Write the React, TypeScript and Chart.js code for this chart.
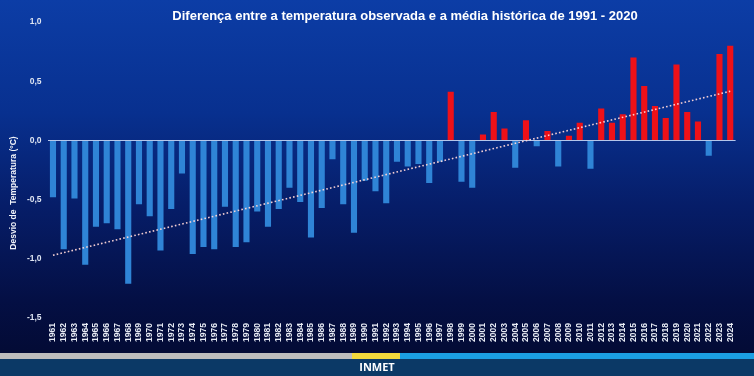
import React, { useEffect, useRef } from "react";
import { Chart, registerables } from "chart.js";

Chart.register(...registerables);

const years = [
  "1961","1962","1963","1964","1965","1966","1967","1968","1969","1970",
  "1971","1972","1973","1974","1975","1976","1977","1978","1979","1980",
  "1981","1982","1983","1984","1985","1986","1987","1988","1989","1990",
  "1991","1992","1993","1994","1995","1996","1997","1998","1999","2000",
  "2001","2002","2003","2004","2005","2006","2007","2008","2009","2010",
  "2011","2012","2013","2014","2015","2016","2017","2018","2019","2020",
  "2021","2022","2023","2024",
];

const anomalies = [
  -0.48, -0.92, -0.49, -1.05, -0.73, -0.70, -0.75, -1.21, -0.54, -0.64,
  -0.93, -0.58, -0.28, -0.96, -0.90, -0.92, -0.56, -0.90, -0.86, -0.60,
  -0.73, -0.58, -0.40, -0.52, -0.82, -0.57, -0.16, -0.54, -0.78, -0.34,
  -0.43, -0.53, -0.18, -0.22, -0.20, -0.36, -0.18, 0.41, -0.35, -0.40,
  0.05, 0.24, 0.10, -0.23, 0.17, -0.05, 0.08, -0.22, 0.04, 0.15,
  -0.24, 0.27, 0.15, 0.22, 0.70, 0.46, 0.29, 0.19, 0.64, 0.24,
  0.16, -0.13, 0.73, 0.80,
];

const yTickValues = [-1.5, -1.0, -0.5, 0.0, 0.5, 1.0];
const yTickLabels = ["-1,5", "-1,0", "-0,5", "0,0", "0,5", "1,0"];

const trendStart = -0.97;
const trendEnd = 0.415;

const titleText = "Diferença entre a temperatura observada e a média histórica de 1991 - 2020";
const yTitleText = "Desvio de  Temperatura (°C)";
const footerText = "INMET";

export default function App() {
  const ref = useRef<HTMLCanvasElement>(null);

  useEffect(() => {
    document.body.style.margin = "0";
    const W = 754;
    const H = 376;
    const canvas = ref.current;
    if (!canvas) return;

    const decor = {
      id: "decor",
      beforeDraw(chart: any) {
        const ctx = chart.ctx;
        ctx.save();
        const g = ctx.createLinearGradient(0, 0, 0, H);
        g.addColorStop(0, "#0c3da6");
        g.addColorStop(0.3, "#08308f");
        g.addColorStop(0.55, "#061d68");
        g.addColorStop(0.8, "#040f44");
        g.addColorStop(0.93, "#030b36");
        ctx.fillStyle = g;
        ctx.fillRect(0, 0, W, H);
        ctx.restore();
      },
      afterDraw(chart: any) {
        const ctx = chart.ctx;
        ctx.save();
        // title
        ctx.fillStyle = "#ffffff";
        ctx.font = "bold 13px 'Liberation Sans', Arial, sans-serif";
        ctx.textAlign = "center";
        ctx.textBaseline = "middle";
        ctx.fillText(titleText, 405, 16);
        // y title
        ctx.save();
        ctx.translate(14, 193);
        ctx.rotate(-Math.PI / 2);
        ctx.font = "bold 8.5px 'Liberation Sans', Arial, sans-serif";
        ctx.fillStyle = "#f0f3fa";
        ctx.fillText(yTitleText, 0, 0);
        ctx.restore();
        // bottom strip
        ctx.fillStyle = "#bdbdbd";
        ctx.fillRect(0, 353, 352, 6);
        ctx.fillStyle = "#f2d83c";
        ctx.fillRect(352, 353, 48, 6);
        ctx.fillStyle = "#1b9fe3";
        ctx.fillRect(400, 353, 354, 6);
        ctx.fillStyle = "#0b3966";
        ctx.fillRect(0, 359, W, 17);
        ctx.fillStyle = "#ffffff";
        ctx.font = "bold 11px 'Open Sans', Arial, sans-serif";
        ctx.textAlign = "center";
        ctx.textBaseline = "middle";
        ctx.fillText(footerText, 377, 368);
        ctx.restore();
      },
    };

    const trendData = years.map((_, i) =>
      i === 0 ? trendStart : i === years.length - 1 ? trendEnd : null
    );

    const chart = new Chart(canvas, {
      type: "bar",
      data: {
        labels: years,
        datasets: [
          {
            type: "line",
            data: trendData as any,
            spanGaps: true,
            borderColor: "rgba(255,215,215,0.95)",
            borderWidth: 1.6,
            borderDash: [1.6, 2.2],
            pointRadius: 0,
            fill: false,
            order: 0,
          } as any,
          {
            type: "bar",
            data: anomalies,
            backgroundColor: anomalies.map((v) => (v >= 0 ? "#ee1118" : "#2f84d6")),
            borderWidth: 0,
            barPercentage: 0.57,
            categoryPercentage: 1,
            order: 1,
          },
        ],
      },
      plugins: [decor],
      options: {
        responsive: false,
        animation: false,
        devicePixelRatio: 1,
        layout: { padding: { top: 22, right: 18.4, left: 0, bottom: 0 } },
        plugins: {
          legend: { display: false },
          tooltip: { enabled: false },
          title: { display: false },
        },
        scales: {
          x: {
            type: "category",
            offset: true,
            grid: { display: false, drawTicks: false },
            border: { display: false },
            ticks: {
              color: "#e8ecf5",
              font: { family: "'Liberation Sans', Arial, sans-serif", size: 8.5, weight: "bold" },
              minRotation: 90,
              maxRotation: 90,
              autoSkip: false,
              padding: 5,
            },
            afterFit: (s: any) => {
              s.height = 58;
            },
          },
          y: {
            min: -1.5,
            max: 1.0,
            afterBuildTicks: (s: any) => {
              s.ticks = yTickValues.map((v) => ({ value: v }));
            },
            ticks: {
              color: "#dfe5f2",
              font: { family: "'Liberation Sans', Arial, sans-serif", size: 8.5, weight: "bold" },
              padding: 6,
              callback: (v: any) => {
                const i = yTickValues.findIndex((t) => Math.abs(t - Number(v)) < 1e-6);
                return i >= 0 ? yTickLabels[i] : "";
              },
            },
            grid: {
              drawTicks: false,
              color: (c: any) =>
                c.tick && Math.abs(c.tick.value) < 1e-9 ? "rgba(200,215,245,0.9)" : "rgba(0,0,0,0)",
              lineWidth: 1,
            },
            border: { display: false },
            afterFit: (s: any) => {
              s.width = 47.6;
            },
          },
        },
      } as any,
    });

    return () => chart.destroy();
  }, []);

  return (
    <div style={{ width: 754, height: 376, position: "relative" }}>
      <canvas ref={ref} width={754} height={376} style={{ display: "block", width: 754, height: 376 }} />
    </div>
  );
}
